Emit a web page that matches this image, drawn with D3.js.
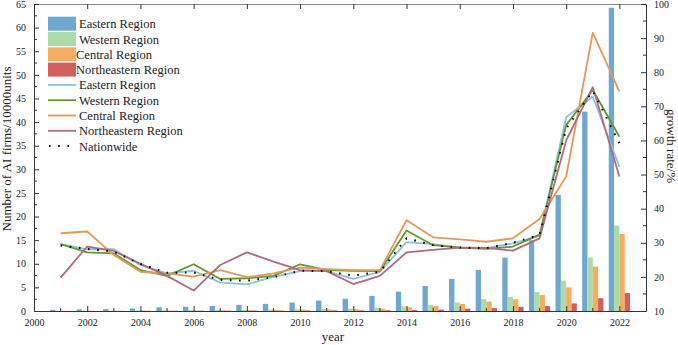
<!DOCTYPE html>
<html><head><meta charset="utf-8">
<script src="https://cdn.jsdelivr.net/npm/d3@7"></script>
<style>
body{margin:0;background:#fff;}
text{font-family:"Liberation Serif","Times New Roman",serif;fill:#222;}
</style></head>
<body><svg id="c" width="678" height="345"></svg>
<script>
const years = d3.range(2001, 2023);
const seriesNames = ["Eastern Region","Western Region","Central Region","Northeastern Region"];
// Bars: number of AI firms (10000 units), left axis
const eastBars    = [0.25,0.35,0.4,0.55,0.8,0.9,1.1,1.3,1.5,1.8,2.2,2.6,3.2,4.1,5.3,6.8,8.7,11.3,15.0,24.6,42.2,64.2];
const westBars    = [0.05,0.08,0.1,0.12,0.15,0.18,0.2,0.25,0.3,0.35,0.4,0.5,0.7,1.0,1.3,1.8,2.5,3.0,4.0,6.4,11.3,18.1];
const centralBars = [0.04,0.06,0.08,0.1,0.12,0.15,0.18,0.2,0.25,0.3,0.35,0.4,0.5,0.8,1.1,1.5,2.0,2.5,3.4,5.0,9.4,16.3];
const neBars      = [0.02,0.03,0.04,0.05,0.06,0.07,0.08,0.1,0.1,0.12,0.13,0.15,0.15,0.2,0.3,0.5,0.6,0.9,1.06,1.6,2.7,3.8];
// Lines: growth rate (%), right axis
const eastRate    = [29.6,28.1,28.1,23.5,21.0,21.8,18.3,17.8,20.0,21.7,21.7,19.4,21.5,30.2,29.6,28.6,28.4,29.8,32.0,66.8,72.8,52.3];
const westRate    = [29.6,27.2,26.9,22.0,20.3,23.7,19.4,19.6,20.3,23.7,22.0,21.8,21.7,33.6,29.3,28.6,28.2,28.9,32.4,64.5,74.8,61.1];
const centralRate = [32.8,33.3,26.4,21.5,21.0,20.1,22.0,19.9,21.0,22.7,22.3,22.0,22.0,36.6,31.6,31.0,30.3,31.3,37.0,49.4,91.6,74.3];
const neRate      = [19.8,28.9,27.6,23.8,20.3,16.0,23.5,27.2,24.5,22.0,21.7,17.9,20.3,27.2,27.9,28.6,28.5,27.7,31.3,60.0,75.6,49.4];
const nationRate  = [29.2,28.2,27.4,23.8,21.2,21.3,19.1,18.9,19.9,21.8,21.7,20.4,21.5,31.3,29.3,28.6,28.4,30.0,32.3,63.5,74.5,59.2];
const xTicks = [2000,2002,2004,2006,2008,2010,2012,2014,2016,2018,2020,2022];
const leftTicks = d3.range(0, 66, 5);
const rightTicks = d3.range(10, 101, 10);

const barColors  = ["#6fa7cf","#a9dca9","#f6ad62","#cf605d"];
const lineColors = ["#8fc0e2","#5e9b2c","#e29a5c","#b06a80"];

const svg = d3.select("#c");
const L=34, R=646, T=4, B=311;
const x = d3.scaleLinear().domain([2000,2023]).range([L,R]);
const yL = d3.scaleLinear().domain([0,65]).range([B,T]);
const yR = d3.scaleLinear().domain([10,100]).range([B,T]);
const step = x(2001)-x(2000);
const sub = d3.scaleBand().domain(seriesNames).range([-step*0.4, step*0.4]).padding(0);

const barData = [eastBars, westBars, centralBars, neBars];
barData.forEach((arr,i)=>{
  svg.append("g").selectAll("rect").data(years).join("rect")
    .attr("x", (d)=>x(d)+sub(seriesNames[i]))
    .attr("width", sub.bandwidth())
    .attr("y", (d,j)=>yL(arr[j]))
    .attr("height", (d,j)=>B-yL(arr[j]))
    .attr("fill", barColors[i]);
});
const rateData = [eastRate, westRate, centralRate, neRate];
const line = d3.line().x(d=>x(d[0])).y(d=>yR(d[1]));
rateData.forEach((arr,i)=>{
  svg.append("path").datum(years.map((y,j)=>[y,arr[j]]))
    .attr("d", line).attr("fill","none")
    .attr("stroke", lineColors[i]).attr("stroke-width",1.8)
    .attr("stroke-linejoin","round");
});
svg.append("path").datum(years.map((y,j)=>[y,nationRate[j]]))
  .attr("d", line).attr("fill","none")
  .attr("stroke","#000").attr("stroke-width",2)
  .attr("stroke-dasharray","1.6,7.6");

// axes
const ax = svg.append("g").attr("font-size",12);
const axB = d3.axisBottom(x).tickValues(xTicks).tickFormat(d3.format("d")).tickSizeInner(-5).tickSizeOuter(0).tickPadding(8);
const gB = ax.append("g").attr("transform",`translate(0,${B})`).call(axB);
gB.append("g").selectAll("line").data(d3.range(2001,2023,2)).join("line")
  .attr("x1",d=>x(d)).attr("x2",d=>x(d)).attr("y1",0).attr("y2",-3).attr("stroke","#333");
const axT = d3.axisTop(x).tickValues(xTicks).tickFormat("").tickSizeInner(-5).tickSizeOuter(0);
const gT = ax.append("g").attr("transform",`translate(0,${T})`).call(axT);
const axLft = d3.axisLeft(yL).tickValues(leftTicks).tickSizeInner(-5).tickSizeOuter(0).tickPadding(8);
const gL = ax.append("g").attr("transform",`translate(${L},0)`).call(axLft);
gL.append("g").selectAll("line").data(d3.range(2.5,65,5)).join("line")
  .attr("y1",d=>yL(d)).attr("y2",d=>yL(d)).attr("x1",0).attr("x2",3).attr("stroke","#333");
const axRgt = d3.axisRight(yR).tickValues(rightTicks).tickSizeInner(-5).tickSizeOuter(0).tickPadding(8);
const gR = ax.append("g").attr("transform",`translate(${R},0)`).call(axRgt);
gR.append("g").selectAll("line").data(d3.range(15,100,10)).join("line")
  .attr("y1",d=>yR(d)).attr("y2",d=>yR(d)).attr("x1",0).attr("x2",-3).attr("stroke","#333");
ax.selectAll(".domain").attr("stroke","#333");
gT.select(".domain").attr("stroke","#888");
ax.selectAll(".tick line").attr("stroke","#333");
ax.selectAll("text").attr("font-family","Liberation Serif, serif").attr("fill","#222");

// axis titles
svg.append("text").attr("x",333).attr("y",341).attr("text-anchor","middle").attr("font-size",13).text("year");
svg.append("text").attr("transform",`translate(11,149) rotate(-90)`).attr("text-anchor","middle").attr("font-size",13).text("Number of AI firms/10000units");
svg.append("text").attr("transform",`translate(667,146) rotate(90)`).attr("text-anchor","middle").attr("font-size",13).text("growth rate/%");

// legend
const lg = svg.append("g");
const rowY = i => 23.7 + i*15.3;
seriesNames.forEach((n,i)=>{
  lg.append("rect").attr("x",48).attr("y",rowY(i)-7).attr("width",28).attr("height",14).attr("fill",barColors[i]);
  lg.append("text").attr("x", i>=2?76:79).attr("y",rowY(i)+4.5).attr("font-size",12.5).text(n);
});
seriesNames.forEach((n,i)=>{
  const k=i+4;
  lg.append("line").attr("x1",48).attr("x2",76).attr("y1",rowY(k)).attr("y2",rowY(k)).attr("stroke",lineColors[i]).attr("stroke-width",1.8);
  lg.append("text").attr("x",79).attr("y",rowY(k)+4.5).attr("font-size",12.5).text(n);
});
lg.append("line").attr("x1",49).attr("x2",76).attr("y1",rowY(8)).attr("y2",rowY(8)).attr("stroke","#000").attr("stroke-width",2).attr("stroke-dasharray","1.6,7.6");
lg.append("text").attr("x",79).attr("y",rowY(8)+4.5).attr("font-size",12.5).text("Nationwide");
</script></body></html>
